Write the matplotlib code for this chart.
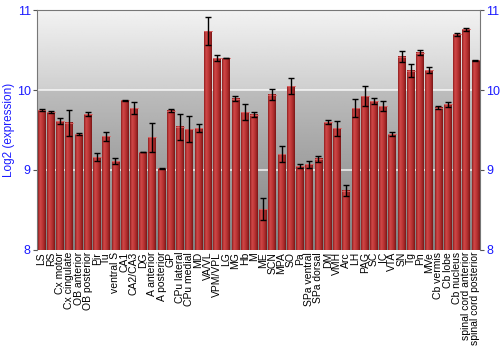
import numpy as np
import matplotlib
matplotlib.use('Agg')
import matplotlib.pyplot as plt
from matplotlib.colors import LinearSegmentedColormap

plt.rcParams['font.family'] = ['Liberation Sans', 'DejaVu Sans']

regions = ['LS', 'RS', 'Cx motor', 'Cx cingulate', 'OB anterior', 'OB posterior',
           'Pir', 'Tu', 'ventral S', 'CA1', 'CA2/CA3', 'DG', 'A anterior',
           'A posterior', 'GP', 'CPu lateral', 'CPu medial', 'MD', 'VA/VL',
           'VPM/VPL', 'LG', 'MG', 'Hb', 'M', 'ME', 'SCN', 'MPA', 'SO', 'Pa',
           'SPa ventral', 'SPa dorsal', 'DM', 'VMH', 'Arc', 'LH', 'PAG', 'SC',
           'IC', 'VTA', 'SN', 'Tg', 'Pn', 'MVe', 'Cb vermis', 'Cb lobe',
           'Cb nucleus', 'spinal cord anterior', 'spinal cord posterior']

expr = [9.75, 9.725, 9.61, 9.59, 9.45, 9.70, 9.16, 9.42, 9.11, 9.87, 9.775,
        9.225, 9.41, 9.02, 9.74, 9.54, 9.51, 9.52, 10.74, 10.40, 10.40, 9.89,
        9.725, 9.69, 8.51, 9.94, 9.20, 10.05, 9.05, 9.07, 9.14, 9.60, 9.52,
        8.74, 9.775, 9.925, 9.86, 9.80, 9.45, 10.42, 10.24, 10.47, 10.25,
        9.78, 9.82, 10.70, 10.76, 10.37]

err = [0.01, 0.01, 0.04, 0.165, 0.01, 0.03, 0.05, 0.055, 0.035, 0.005, 0.08,
       0.005, 0.18, 0.01, 0.02, 0.16, 0.16, 0.05, 0.18, 0.04, 0.005, 0.03,
       0.1, 0.03, 0.135, 0.07, 0.095, 0.1, 0.02, 0.04, 0.04, 0.03, 0.09,
       0.07, 0.115, 0.12, 0.035, 0.065, 0.03, 0.07, 0.08, 0.035, 0.04,
       0.015, 0.03, 0.02, 0.02, 0.005]

BLUE = '#1a1aff'
YMIN, YMAX = 8, 11

fig = plt.figure(figsize=(5, 3.5), dpi=100)
ax = fig.add_axes([0.074, 0.286, 0.886, 0.685])
x = np.arange(len(regions))
ax.set_xlim(-0.5, len(regions) - 0.5)
ax.set_ylim(YMIN, YMAX)

# background gradient (lighter above 10, darker below)
yy = np.linspace(YMAX, YMIN, 300)
vals = np.where(yy >= 10, 0.95 - (YMAX - yy) * 0.14, 0.74 - (10 - yy) * 0.12)
bg = np.repeat(vals[:, None], 2, axis=1)
ax.imshow(bg, cmap='gray', vmin=0, vmax=1, aspect='auto',
          extent=[-0.5, len(regions) - 0.5, YMIN, YMAX], zorder=0)

# white grid lines
for g in [9, 10]:
    ax.axhline(g, color='white', lw=1.2, alpha=0.8, zorder=1)

# bars with horizontal red gradient
bar_cmap = LinearSegmentedColormap.from_list(
    'redbar', ['#8e1d1d', '#d04848', '#c23a3a', '#a82a2a', '#7a1616'])
grad = np.linspace(0, 1, 64)[None, :]
w = 0.84
for xi, v in zip(x, expr):
    ax.imshow(grad, cmap=bar_cmap, aspect='auto',
              extent=[xi - w / 2, xi + w / 2, YMIN, v], zorder=2)
    ax.plot([xi - w / 2, xi + w / 2], [v, v], color='#e06a6a', lw=0.6, zorder=3)

ax.errorbar(x, expr, yerr=err, fmt='none', ecolor='black', elinewidth=1,
            capsize=2, capthick=1, zorder=4)

ax.set_xticks(x)
ax.set_xticklabels(regions, rotation=90, fontsize=7.5)
ax.tick_params(axis='x', length=0, pad=1.5)
ax.set_yticks([8, 9, 10, 11])
ax.tick_params(axis='y', colors='#555555', labelcolor=BLUE, labelsize=9,
               length=3, pad=1.5, left=True, right=True, labelleft=True,
               labelright=True)
ax.set_ylabel('Log2 (expression)', color=BLUE, fontsize=8.5, labelpad=1)
for s in ['left', 'right', 'top']:
    ax.spines[s].set_color('#777777')
ax.spines['bottom'].set_visible(False)

fig.savefig('out.png', dpi=100, facecolor='white')
